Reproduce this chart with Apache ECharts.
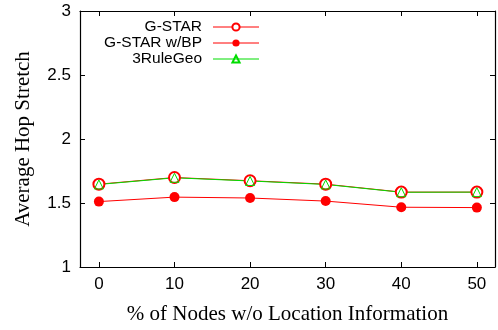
<!DOCTYPE html>
<html>
<head>
<meta charset="utf-8">
<script src="https://cdn.jsdelivr.net/npm/echarts@6/dist/echarts.min.js"></script>
<style>
  html, body { margin: 0; padding: 0; background: #fff; }
  #chart { width: 498px; height: 330px; }
</style>
</head>
<body>
<div id="chart"></div>
<script>
// Percentage of nodes lacking location information
const nodesWithoutLocation = [0, 10, 20, 30, 40, 50];
// Average hop stretch per scheme
const gstar = [1.647, 1.699, 1.674, 1.647, 1.585, 1.585];
const gstarBP = [1.511, 1.546, 1.539, 1.515, 1.467, 1.464];
const ruleGeo3 = [1.645, 1.697, 1.672, 1.645, 1.584, 1.585];
const xTicks = [0, 10, 20, 30, 40, 50];
const yTicks = [1, 1.5, 2, 2.5, 3];

const pair = (ys) => nodesWithoutLocation.map((x, i) => [x, ys[i]]);

const chart = echarts.init(document.getElementById('chart'));

const tickStyle = { show: true, inside: true, length: 5, lineStyle: { color: '#000', width: 1 } };
const frameLine = { show: true, onZero: false, lineStyle: { color: '#000', width: 1.2 } };
const labelFont = { fontFamily: 'Liberation Sans', fontSize: 17, color: '#000', margin: 9 };
const titleFont = { fontFamily: 'Liberation Serif', color: '#000' };

chart.setOption({
  animation: false,
  backgroundColor: '#fff',
  grid: { left: 80, right: 3, top: 11, bottom: 61 },
  legend: {
    orient: 'vertical',
    left: 87,
    top: 19,
    padding: 0,
    align: 'right',
    itemGap: 0,
    itemWidth: 46,
    itemHeight: 9,
    lineStyle: { width: 1 },
    textStyle: {
      fontFamily: 'Liberation Sans', fontSize: 15.5, color: '#000',
      width: 115, align: 'right', lineHeight: 15.5, padding: [0, 6, 0, 0]
    },
    data: ['G-STAR', 'G-STAR w/BP', '3RuleGeo']
  },
  xAxis: [{
    type: 'value',
    min: -2.5,
    max: 52.4,
    name: '% of Nodes w/o Location Information',
    nameLocation: 'middle',
    nameGap: 37,
    nameTextStyle: Object.assign({ fontSize: 21 }, titleFont),
    axisLine: frameLine,
    axisTick: Object.assign({ customValues: xTicks }, tickStyle),
    axisLabel: Object.assign({ customValues: xTicks }, labelFont),
    splitLine: { show: false }
  }, {
    type: 'value',
    position: 'top',
    min: -2.5,
    max: 52.4,
    axisLine: frameLine,
    axisTick: Object.assign({ customValues: xTicks }, tickStyle),
    axisLabel: { show: false },
    splitLine: { show: false }
  }],
  yAxis: [{
    type: 'value',
    min: 1,
    max: 3,
    interval: 0.5,
    name: 'Average Hop Stretch',
    nameLocation: 'middle',
    nameGap: 46,
    nameTextStyle: Object.assign({ fontSize: 21 }, titleFont),
    axisLine: frameLine,
    axisTick: Object.assign({ customValues: yTicks }, tickStyle),
    axisLabel: Object.assign({ customValues: yTicks }, labelFont),
    splitLine: { show: false }
  }, {
    type: 'value',
    position: 'right',
    min: 1,
    max: 3,
    interval: 0.5,
    axisLine: frameLine,
    axisTick: tickStyle,
    axisLabel: { show: false },
    splitLine: { show: false }
  }],
  series: [{
    name: 'G-STAR',
    type: 'line',
    data: pair(gstar),
    symbol: 'emptyCircle',
    symbolSize: 11,
    color: '#ff0000',
    lineStyle: { color: '#ff0000', width: 1 },
    itemStyle: { color: '#ff0000', borderColor: '#ff0000', borderWidth: 1 }
  }, {
    name: 'G-STAR w/BP',
    type: 'line',
    data: pair(gstarBP),
    symbol: 'circle',
    symbolSize: 10,
    color: '#ff0000',
    lineStyle: { color: '#ff0000', width: 1 },
    itemStyle: { color: '#ff0000', borderWidth: 0 }
  }, {
    name: '3RuleGeo',
    type: 'line',
    data: pair(ruleGeo3),
    symbol: 'triangle',
    symbolSize: 9,
    color: '#00dd00',
    lineStyle: { color: '#00dd00', width: 1 },
    itemStyle: { color: 'rgba(0,0,0,0)', borderColor: '#00dd00', borderWidth: 1 }
  }]
});
</script>
</body>
</html>
